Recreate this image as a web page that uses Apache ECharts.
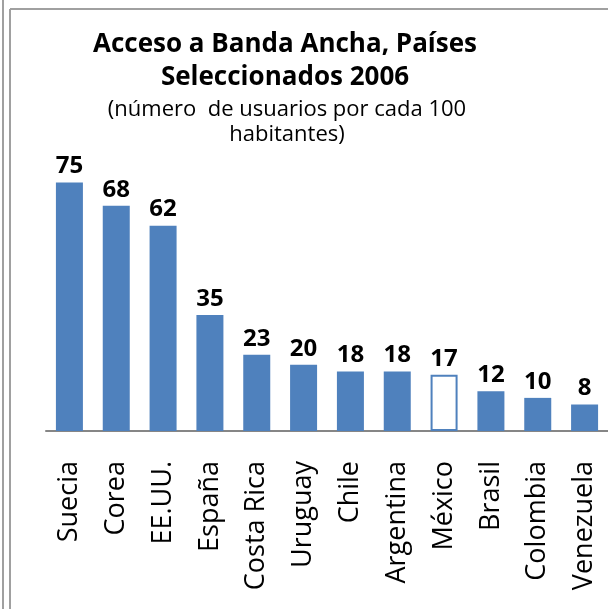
<!DOCTYPE html>
<html>
<head>
<meta charset="utf-8">
<script src="https://cdn.jsdelivr.net/npm/echarts@6/dist/echarts.min.js"></script>
<style>
  html, body { margin: 0; padding: 0; background: #fff; }
  #chart { width: 608px; height: 609px; }
</style>
</head>
<body>
<div id="chart"></div>
<script>
// countries and broadband users per 100 inhabitants (2006)
var paises = ['Suecia', 'Corea', 'EE.UU.', 'España', 'Costa Rica', 'Uruguay', 'Chile',
              'Argentina', 'México', 'Brasil', 'Colombia', 'Venezuela'];
var usuarios = [75, 68, 62, 35, 23, 20, 18, 18, 17, 12, 10, 8];
var resaltado = 'México';

var azul = '#4f81bd';
var chart = echarts.init(document.getElementById('chart'));

var barData = usuarios.map(function (v, i) {
    if (paises[i] === resaltado) {
        return {value: v, itemStyle: {color: '#fff', borderColor: azul, borderWidth: 2}};
    }
    return v;
});

chart.setOption({
    animation: false,
    textStyle: {fontFamily: 'Open Sans'},
    title: [{
        text: 'Acceso a Banda Ancha, Países\nSeleccionados 2006',
        left: 280,
        top: 23,
        textAlign: 'center',
        textStyle: {fontSize: 26, fontWeight: 'bold', color: '#000', lineHeight: 33, fontFamily: 'Open Sans'}
    }, {
        text: '(número  de usuarios por cada 100\nhabitantes)',
        left: 282,
        top: 92,
        textAlign: 'center',
        textStyle: {fontSize: 22, fontWeight: 'normal', color: '#000', lineHeight: 25, fontFamily: 'Open Sans'}
    }],
    grid: {left: 46, width: 564, top: 166, bottom: 178, containLabel: false},
    xAxis: {
        type: 'category',
        data: paises,
        axisLine: {lineStyle: {color: '#868686', width: 2}},
        axisTick: {show: false},
        axisLabel: {rotate: 90, margin: 30, interval: 0, fontSize: 27, color: '#000', fontFamily: 'Open Sans'}
    },
    yAxis: {
        type: 'value',
        min: 0,
        max: 80,
        show: false
    },
    series: [{
        type: 'bar',
        data: barData,
        barWidth: 27,
        itemStyle: {color: azul},
        label: {
            show: true,
            position: 'top',
            distance: 4,
            fontSize: 24,
            fontWeight: 'bold',
            color: '#000',
            fontFamily: 'Open Sans'
        }
    }],
    graphic: [
        {type: 'line', shape: {x1: 3, y1: 0, x2: 3, y2: 609}, style: {stroke: '#a0a0a0', lineWidth: 2}},
        {type: 'line', shape: {x1: 10, y1: 9, x2: 10, y2: 609}, style: {stroke: '#a0a0a0', lineWidth: 2}},
        {type: 'line', shape: {x1: 10, y1: 9, x2: 608, y2: 9}, style: {stroke: '#a0a0a0', lineWidth: 2}}
    ]
});
</script>
</body>
</html>
